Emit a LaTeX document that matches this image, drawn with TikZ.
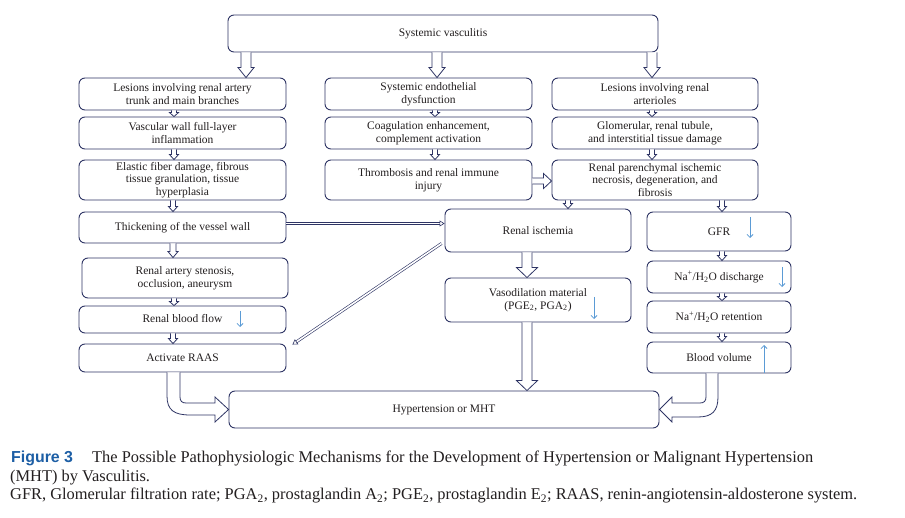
\documentclass[tikz,border=0pt]{standalone}
\usepackage{fontspec}
\setmainfont{Liberation Serif}
\newfontfamily\capsans{Liberation Sans}
\usetikzlibrary{calc,arrows.meta}
\definecolor{navy}{RGB}{46,52,100}
\definecolor{skyarr}{RGB}{91,155,213}
\definecolor{txt}{RGB}{35,31,32}
\definecolor{figblue}{RGB}{28,94,165}
\newcommand{\hollowV}[6]{%
\draw[hol] ($(#1.south)+(#3-#4,0)$) -- ($(#2.north -| #1.south)+(#3-#4,-#6)$) -- ($(#2.north -| #1.south)+(#3-#5,-#6)$) -- ($(#2.north -| #1.south)+(#3,0)$) -- ($(#2.north -| #1.south)+(#3+#5,-#6)$) -- ($(#2.north -| #1.south)+(#3+#4,-#6)$) -- ($(#1.south)+(#3+#4,0)$);}
\begin{document}
\begin{tikzpicture}[x=1pt,y=-1pt,
 box/.style={draw=navy,line width=0.9pt,rounded corners=6pt,align=center,inner sep=0pt,text=txt,font=\fontsize{11.5}{12.8}\selectfont},
 hol/.style={draw=navy,line width=0.8pt,fill=white,line join=miter},
 dbl/.style={draw=navy,double=white,double distance=1.6pt,line width=0.6pt},
 blu/.style={draw=skyarr,line width=0.8pt,-{Straight Barb[length=3pt,width=6pt]}},
 captext/.style={anchor=base west,inner sep=0pt,text=txt,font=\fontsize{16.4}{19}\selectfont}]
\useasboundingbox[fill=white] (0,0) rectangle (905,518);
% top
\node[box,minimum width=430pt,minimum height=37pt] (sv) at (443,33.5) {Systemic vasculitis};
% left column
\node[box,minimum width=207pt,minimum height=32pt] (l1) at (182.5,94) {Lesions involving renal artery\\trunk and main branches};
\node[box,minimum width=207pt,minimum height=32pt] (l2) at (182.5,133) {Vascular wall full-layer\\inflammation};
\node[box,minimum width=207pt,minimum height=40pt] (l3) at (182.5,180) {Elastic fiber damage, fibrous\\tissue granulation, tissue\\hyperplasia};
\node[box,minimum width=207pt,minimum height=31pt] (l4) at (182.5,227.5) {Thickening of the vessel wall};
\node[box,minimum width=206pt,minimum height=40pt] (l5) at (185,278) {Renal artery stenosis,\\occlusion, aneurysm};
\node[box,minimum width=207pt,minimum height=27pt] (l6) at (182.5,319.5) {\raisebox{3pt}{Renal blood flow}};
\node[box,minimum width=207pt,minimum height=28pt] (l7) at (182.5,358) {Activate RAAS};
% middle column
\node[box,minimum width=207pt,minimum height=32pt] (m1) at (428.5,94) {Systemic endothelial\\dysfunction};
\node[box,minimum width=207pt,minimum height=32pt] (m2) at (428.5,133) {Coagulation enhancement,\\complement activation};
\node[box,minimum width=207pt,minimum height=40pt] (m3) at (428.5,180) {Thrombosis and renal immune\\injury};
% right column
\node[box,minimum width=206pt,minimum height=32pt] (r1) at (655,94) {Lesions involving renal\\arterioles};
\node[box,minimum width=206pt,minimum height=32pt] (r2) at (655,133) {Glomerular, renal tubule,\\and interstitial tissue damage};
\node[box,minimum width=206pt,minimum height=40pt] (r3) at (655,180) {Renal parenchymal ischemic\\necrosis, degeneration, and\\fibrosis};
% centre lower
\node[box,minimum width=186pt,minimum height=43pt] (isc) at (538,230.5) {Renal ischemia};
\node[box,minimum width=186pt,minimum height=44pt] (vaso) at (538,300) {Vasodilation material\\(PGE\textsubscript{2}, PGA\textsubscript{2})};
% right lower
\node[box,minimum width=144pt,minimum height=39pt] (gfr) at (719,231.5) {GFR};
\node[box,minimum width=144pt,minimum height=32pt] (dis) at (719,277) {Na\textsuperscript{+}/H\textsubscript{2}O discharge};
\node[box,minimum width=144pt,minimum height=32pt] (ret) at (719,317) {Na\textsuperscript{+}/H\textsubscript{2}O retention};
\node[box,minimum width=144pt,minimum height=31pt] (bv) at (719,357.5) {Blood volume};
% bottom
\node[box,minimum width=430pt,minimum height=37pt] (hyp) at (444,409.5) {Hypertension or MHT};
% big arrows from top
\hollowV{sv}{l1}{-197}{5}{8}{10}
\hollowV{sv}{m1}{-6}{5}{8}{10}
\hollowV{sv}{r1}{209}{5}{8}{10}
% left column arrows
\hollowV{l1}{l2}{-8.5}{2.5}{4.5}{4}
\hollowV{l2}{l3}{-8.5}{2.5}{4.5}{5}
\hollowV{l3}{l4}{-9.5}{2.5}{4.5}{5}
\hollowV{l4}{l5}{-9.5}{3}{5}{6}
\hollowV{l5}{l6}{-11}{2.5}{4.5}{4}
\hollowV{l6}{l7}{-9.5}{2.5}{4.5}{5}
% middle column arrows
\hollowV{m1}{m2}{6.5}{2.5}{4.5}{4}
\hollowV{m2}{m3}{6.5}{2.5}{4.5}{5}
% right column arrows
\hollowV{r1}{r2}{-3}{2.5}{4.5}{4}
\hollowV{r2}{r3}{-3}{2.5}{4.5}{5}
\hollowV{r3}{isc}{-87}{2.5}{4.5}{5}
\hollowV{r3}{gfr}{67}{2.5}{4.5}{5}
\hollowV{gfr}{dis}{3}{2.5}{4.5}{5}
\hollowV{dis}{ret}{3}{2.5}{4.5}{4}
\hollowV{ret}{bv}{3}{2.5}{4.5}{5}
% ischemia / vasodilation
\hollowV{isc}{vaso}{-11}{5}{10.5}{10}
\hollowV{vaso}{hyp}{-11}{5}{10.5}{10}
% thrombosis -> parenchymal
\draw[hol] ($(m3.east)+(0,-2)$) -- ($(r3.west)+(-8,-2)$) -- ($(r3.west)+(-8,-6.5)$) -- ($(r3.west)+(0,1)$) -- ($(r3.west)+(-8,8.5)$) -- ($(r3.west)+(-8,4)$) -- ($(m3.east)+(0,4)$);
% double line arrows
\draw[dbl,-{Triangle[open,length=5pt,width=6pt]}] ($(l4.east)+(0,-4)$) -- ($(isc.west)+(0,-7)$);
\draw[dbl,-{Triangle[open,length=5pt,width=6pt]}] ($(isc.south west)+(-3,-9)$) -- ($(l7.north east)+(6,1)$);
% bent arrows
\draw[hol] ($(l7.south)+(-15.5,0)$) -- (167,396) .. controls (167,410) and (174,415) .. (190,415) -- (215,415) -- (215,422) -- (hyp.west) -- (215,397) -- (215,403) -- (186,403) .. controls (182,403) and (180,401) .. (180,397) -- ($(l7.south)+(-2.5,0)$);
\draw[hol] ($(bv.south)+(-13,0)$) -- (706,397) .. controls (706,401) and (704,403) .. (700,403) -- (672,403) -- (672,397) -- (hyp.east) -- (672,422) -- (672,417) -- (698,417) .. controls (712,417) and (718,411) .. (718,397) -- ($(bv.south)+(-1,0)$);
% blue trend arrows
\draw[blu] ($(l6.center)+(57.5,-8.5)$) -- ($(l6.center)+(57.5,7.5)$);
\draw[blu] ($(vaso.center)+(56,-3)$) -- ($(vaso.center)+(56,19)$);
\draw[blu] ($(gfr.center)+(31,-14.5)$) -- ($(gfr.center)+(31,6.5)$);
\draw[blu] ($(dis.center)+(63,-10)$) -- ($(dis.center)+(63,10)$);
\draw[blu] ($(bv.center)+(45,15.5)$) -- ($(bv.center)+(45,-12.5)$);
% caption
\node[anchor=base west,inner sep=0pt,text=figblue,font=\capsans\bfseries\fontsize{15.9}{19}\selectfont] (fig) at (11,462.5) {Figure 3};
\node[captext] (c1) at (92,462.5) {The Possible Pathophysiologic Mechanisms for the Development of Hypertension or Malignant Hypertension};
\node[captext] (c2) at (10,481) {(MHT) by Vasculitis.};
\node[captext] (c3) at (10,499.5) {GFR, Glomerular filtration rate; PGA\textsubscript{2}, prostaglandin A\textsubscript{2}; PGE\textsubscript{2}, prostaglandin E\textsubscript{2}; RAAS, renin-angiotensin-aldosterone system.};
\end{tikzpicture}
\end{document}
